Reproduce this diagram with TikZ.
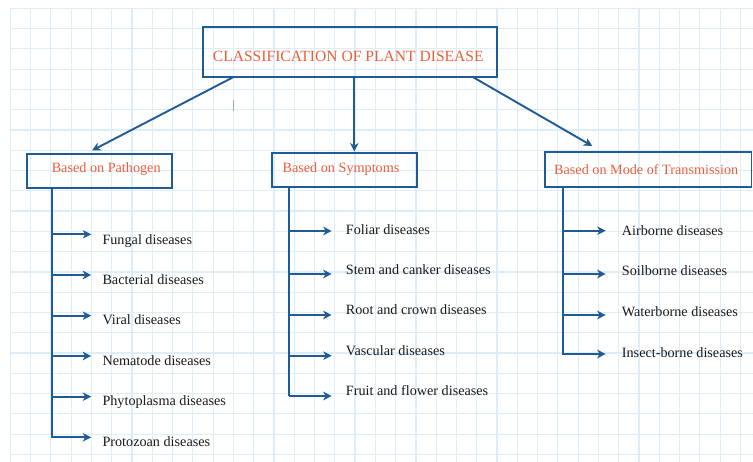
\documentclass[tikz,border=0pt]{standalone}
\usepackage{fontspec}
\setmainfont{Liberation Serif}
\usetikzlibrary{arrows.meta}
\definecolor{gridblue}{RGB}{221,238,251}
\definecolor{linkblue}{RGB}{31,91,150}
\definecolor{headred}{RGB}{232,96,60}
\definecolor{itemgray}{RGB}{26,26,26}
\tikzset{
  boxframe/.style={draw=linkblue, line width=1.9pt, rectangle, inner sep=0pt},
  headtext/.style={text=headred, inner sep=0pt, font=\fontsize{15.6}{18}\selectfont},
  subtext/.style={text=headred, inner sep=0pt, font=\fontsize{14.2}{17}\selectfont},
  itemtext/.style={text=itemgray, inner sep=0pt, anchor=base west, font=\fontsize{14.2}{17}\selectfont},
  trunk/.style={draw=linkblue, line width=1.9pt},
  arr/.style={draw=linkblue, line width=1.9pt, -{Stealth[length=8.5pt, width=8.5pt, inset=2.5pt]}},
}
\begin{document}
\begin{tikzpicture}[x=1pt, y=-1pt]
  \useasboundingbox (0,0) rectangle (753,462);
  \fill[white] (0,0) rectangle (753,462);

  % squared paper
  \foreach \i in {0,...,36}
    \draw[gridblue, line width=1.2pt] ({10.3+20.28*\i},8.3) -- ({10.3+20.28*\i},462);
  \foreach \j in {0,...,22}
    \draw[gridblue, line width=1.2pt] (10.3,{8.3+20.28*\j}) -- (753,{8.3+20.28*\j});

  % stray text cursor
  \draw[gray!70, line width=0.9pt] (233.3,100) -- (233.3,110.7);

  % title
  \node[boxframe, minimum width=294pt, minimum height=50pt] (title) at (350,52) {};
  \node[headtext] (titletext) at (348.3,56.5) {CLASSIFICATION OF PLANT DISEASE};

  % category boxes
  \node[boxframe, minimum width=145pt, minimum height=33.7pt] (pat) at (99.8,170.9) {};
  \node[subtext] (pattext) at (106.2,169.5) {Based on Pathogen};
  \node[boxframe, minimum width=145pt, minimum height=34pt] (sym) at (344.2,170.3) {};
  \node[subtext] (symtext) at (341,169.5) {Based on Symptoms};
  \node[boxframe, minimum width=206.5pt, minimum height=34.4pt] (tra) at (648.2,169.5) {};
  \node[subtext] (tratext) at (646.2,169.5) {Based on Mode of Transmission};

  % links from the title
  \coordinate (tL) at (233,77.3);
  \coordinate (tM) at (354.3,77.3);
  \coordinate (tR) at (473.3,77.3);
  \coordinate (patIn) at (92,150.5);
  \coordinate (symIn) at (354.3,151.5);
  \coordinate (traIn) at (592.3,146);
  \draw[arr] (tL) -- (patIn);
  \draw[arr] (tM) -- (symIn);
  \draw[arr] (tR) -- (traIn);

  % pathogen branch
  \coordinate (pTop) at (51.7,187.7);
  \coordinate (pBot) at (51.7,438);
  \draw[trunk] (pTop) -- (pBot);
  \foreach \y [count=\k] in {234.3,275,315.7,356,396.7,437.3} {
    \coordinate (p\k) at (51.7,\y);
    \draw[arr] (p\k) -- ++(39.5,0);
  }
  \node[itemtext] (pi1) at (102.3,244.5) {Fungal diseases};
  \node[itemtext] (pi2) at (102.3,284.5) {Bacterial diseases};
  \node[itemtext] (pi3) at (102.3,324.5) {Viral diseases};
  \node[itemtext] (pi4) at (102.3,365.5) {Nematode diseases};
  \node[itemtext] (pi5) at (102.3,405.5) {Phytoplasma diseases};
  \node[itemtext] (pi6) at (102.3,446.2) {Protozoan diseases};

  % symptoms branch
  \coordinate (sTop) at (289.3,187.3);
  \coordinate (sBot) at (289.3,396.5);
  \draw[trunk] (sTop) -- (sBot);
  \foreach \y [count=\k] in {231,274,315,355.7,396} {
    \coordinate (s\k) at (289.3,\y);
    \draw[arr] (s\k) -- ++(42.4,0);
  }
  \node[itemtext] (si1) at (345.7,234.5) {Foliar diseases};
  \node[itemtext] (si2) at (345.7,274.5) {Stem and canker diseases};
  \node[itemtext] (si3) at (345.7,314.5) {Root and crown diseases};
  \node[itemtext] (si4) at (345.7,355.2) {Vascular diseases};
  \node[itemtext] (si5) at (345.7,395.5) {Fruit and flower diseases};

  % transmission branch
  \coordinate (tTop) at (562.7,186.7);
  \coordinate (tBot) at (562.7,355);
  \draw[trunk] (tTop) -- (tBot);
  \foreach \y [count=\k] in {230.7,274,315,354} {
    \coordinate (r\k) at (562.7,\y);
    \draw[arr] (r\k) -- ++(43,0);
  }
  \node[itemtext] (ti1) at (621.7,235.5) {Airborne diseases};
  \node[itemtext] (ti2) at (621.7,275.5) {Soilborne diseases};
  \node[itemtext] (ti3) at (621.7,316.8) {Waterborne diseases};
  \node[itemtext] (ti4) at (621.7,357.2) {Insect-borne diseases};
\end{tikzpicture}
\end{document}
